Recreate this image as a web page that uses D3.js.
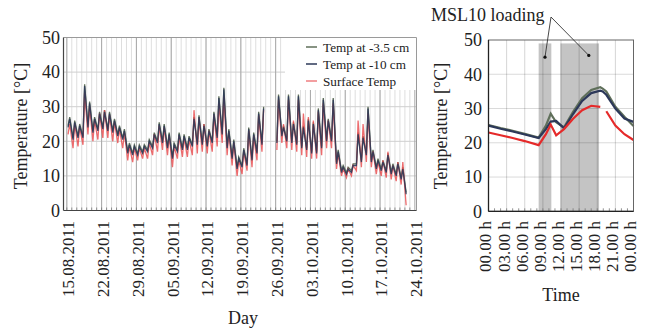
<!DOCTYPE html>
<html><head><meta charset="utf-8">
<script src="https://cdn.jsdelivr.net/npm/d3@7"></script>
<style>
body{margin:0;background:#fff}
text{font-family:"Liberation Serif","Times New Roman",serif;fill:#222}
</style>
</head><body><svg id="c" width="650" height="329"></svg>
<script>
// ---------- DATA ----------
const startDay = "15.08.2011";
const dateTickLabels = ["15.08.2011","22.08.2011","29.08.2011","05.09.2011","12.09.2011","19.09.2011","26.09.2011","03.10.2011","10.10.2011","17.10.2011","24.10.2011"];
const yTicks = [0,10,20,30,40,50];
const seriesNames = ["Temp at -3.5 cm","Temp at -10 cm","Surface Temp"];

// daily minima (~06:00) and maxima (~14:00), one entry per day from 15.08.2011
const navyMin = [24,20.5,21,21,24,22.5,23,23.5,23,22.5,21.5,20.5,16.5,16,16,16.5,17,18,19.5,19.5,18,15,17,17.5,17.5,18.5,19,19,18.5,19.5,21,22,18,15,12,12.5,13,14.5,16.5,19,null,null,19.5,21.5,20,19.5,19,18,17.5,16.5,16.5,18,20,20,13.5,11,10.5,11,13,14,16,14,12,11.5,11,10.5,10,9,4.7];
const navyMax = [26.5,25.5,24.5,36,31,26.5,28,28.5,28,26,24,23,19,18.5,18.5,18.5,20,22,25,24.5,22,19,22,21.5,21,26.5,27,24.5,23,28,32.5,35,23,20,15,17.5,23.5,22,28,29.5,null,null,33,24,33,25,33,24,26,25,29,32,26,32,17,12.5,12,13,22,21,29.5,17,14.5,14,16,13,13.5,12,null];
const greenMin = [24.5,21,21.5,21.5,24.5,23,23.5,24,23.5,23,22,21,17,16.5,16.5,17,17.5,18.5,20,20,18.5,15.5,17.5,18,18,19,19.5,19.5,19,20,21.5,22.5,18.5,15.5,12.5,13,13.5,15,17,19.5,null,null,20,22,20.5,20,19.5,18.5,18,17,17,18.5,20.5,20.5,14,11.5,11,11.5,13.5,14.5,16.5,14.5,12.5,12,11.5,11,10.5,9.5,5.2];
const greenMax = [27,26,25,36.5,31.5,27,28.5,29,28.5,26.5,24.5,23.5,19.5,19,19,19,20.5,22.5,25.5,25,22.5,19.5,22.5,22,21.5,27,27.5,25,23.5,28.5,33,35.5,23.5,20.5,15.5,18,24,22.5,28.5,30,null,null,33.5,24.5,33.5,25.5,33.5,24.5,26.5,25.5,29.5,32.5,26.5,32.5,17.5,13,12.5,13.5,22.5,21.5,30,17.5,15,14.5,16.5,13.5,14,12.5,null];
const redMin = [22,18,18.5,19,22,20,20.5,21,21,20,19.5,18,14.5,14,14.5,15,15,16,17,17.5,16,12.5,15,15.5,15.5,16,16.5,17,16.5,17,18.5,19.5,16,13,10,10.5,11.5,12.5,14.5,17,null,null,17.5,19.5,18,17.5,17,16,15.5,15,15,16,18,18,12,10,9.5,10,11.5,12.5,14,12.5,10.5,10,9.5,9,8.5,7.5,1.5];
const redMax = [25,25,24,34,30,26,28,29,27.5,25.5,23.5,22.5,18.5,18,18,18,19.5,22,24.5,24,21.5,18.5,21.5,21,20.5,29,26.5,25,23,27.5,31,33,22.5,19.5,14.5,17,23,21.5,27.5,29,null,null,32,25,32,26,32,28,27,26,28.5,31,26,31,16.5,12,12,13,26,25,28,17,14,14.5,17,13,14,14,null];

// right chart: one day of MSL10 loading
const timeTickLabels = ["00.00 h","03.00 h","06.00 h","09.00 h","12.00 h","15.00 h","18.00 h","21.00 h","00.00 h"];
const hours      = [0,2,4,6,8.3,9.5,10.3,11.2,12.5,14,15.5,17,18.5,18.9,19.5,21,22.5,24];
const green35    = [25.2,24.3,23.5,22.6,21.5,25,28.5,26,24.5,29,33,35.4,36.2,35.8,35,30.5,27.6,24.9];
const navy10     = [25.0,24.1,23.3,22.4,21.4,24,26.2,26.4,24.2,28.4,32.2,34.5,35.2,35,34,30,27.1,26.1];
const surface    = [23.0,22.2,21.4,20.5,19.3,22.5,25.3,22.2,24,27,29.5,30.8,30.5,null,29.2,25,22.5,20.8];
const loadingStart = [8.3,11.9];
const loadingEnd   = [10.4,18.3];
const loadingTop = 49;
const annotation = "MSL10 loading";

// ---------- DRAW ----------
const svg = d3.select("#c");
const colGreen = "#5f6f5a", colNavy = "#2c3859", colRed = "#e8474a";
const parse = d3.timeParse("%d.%m.%Y");
const day0 = parse(startDay);

// LEFT CHART
const xL = d3.scaleTime().domain([new Date(2011,7,14,8), new Date(2011,9,24,8)]).range([63.5,416.5]);
const yL = d3.scaleLinear().domain([0,50]).range([210.5,37.5]);
const gL = svg.append("g");
const majorDates = dateTickLabels.map(parse);
const allDays = d3.timeDay.range(new Date(2011,7,15), new Date(2011,9,24));
gL.selectAll(".mg").data(allDays).join("line")
  .attr("x1",d=>xL(d)).attr("x2",d=>xL(d)).attr("y1",yL(50)).attr("y2",yL(0))
  .attr("stroke","#d6d6d6").attr("stroke-width",0.8);
gL.selectAll(".hg").data(yTicks.slice(1,5)).join("line")
  .attr("x1",xL.range()[0]).attr("x2",xL.range()[1]).attr("y1",d=>yL(d)).attr("y2",d=>yL(d))
  .attr("stroke","#cfcfcf").attr("stroke-width",1);
gL.selectAll(".Mg").data(majorDates).join("line")
  .attr("x1",d=>xL(d)).attr("x2",d=>xL(d)).attr("y1",yL(50)).attr("y2",yL(0))
  .attr("stroke","#a8a8a8").attr("stroke-width",1);
gL.selectAll(".mt").data(allDays).join("line")
  .attr("x1",d=>xL(d)).attr("x2",d=>xL(d)).attr("y1",yL(0)).attr("y2",yL(0)-3)
  .attr("stroke","#777").attr("stroke-width",0.8);

function dailyPoints(mins, maxs){
  const pts=[];
  mins.forEach((v,i)=>{
    const d = d3.timeDay.offset(day0,i);
    pts.push({t:d3.timeHour.offset(d,6), v:v});
    pts.push({t:d3.timeHour.offset(d,14), v:maxs[i]});
  });
  return pts;
}
const lineL = d3.line().defined(d=>d.v!=null).x(d=>xL(d.t)).y(d=>yL(d.v));
gL.append("path").attr("d",lineL(dailyPoints(greenMin,greenMax))).attr("fill","none").attr("stroke",colGreen).attr("stroke-width",1.3);
gL.append("path").attr("d",lineL(dailyPoints(redMin,redMax))).attr("fill","none").attr("stroke",colRed).attr("stroke-opacity",0.8).attr("stroke-width",1.3);
gL.append("path").attr("d",lineL(dailyPoints(navyMin,navyMax))).attr("fill","none").attr("stroke",colNavy).attr("stroke-opacity",0.9).attr("stroke-width",1.3);

// legend
gL.append("rect").attr("x",285).attr("y",38).attr("width",131).attr("height",52).attr("fill","#fff");
const legCols=[colGreen,colNavy,colRed];
seriesNames.forEach((n,i)=>{
  const y=47+i*17;
  gL.append("line").attr("x1",306).attr("x2",317).attr("y1",y).attr("y2",y).attr("stroke",legCols[i]).attr("stroke-width",1.5).attr("stroke-opacity",i==2?0.7:1);
  gL.append("text").attr("x",323).attr("y",y+4.5).attr("font-size",13.2).text(n);
});

// frame
gL.append("line").attr("x1",xL.range()[0]).attr("x2",xL.range()[1]).attr("y1",yL(50)).attr("y2",yL(50)).attr("stroke","#9a9a9a");
gL.append("line").attr("x1",xL.range()[1]).attr("x2",xL.range()[1]).attr("y1",yL(50)).attr("y2",yL(0)).attr("stroke","#9a9a9a");
gL.append("line").attr("x1",xL.range()[0]).attr("x2",xL.range()[1]).attr("y1",yL(0)).attr("y2",yL(0)).attr("stroke","#444").attr("stroke-width",1.2);
gL.append("line").attr("x1",xL.range()[0]).attr("x2",xL.range()[0]).attr("y1",yL(50)).attr("y2",yL(0)).attr("stroke","#444").attr("stroke-width",1.2);

gL.selectAll(".yl").data(yTicks).join("text")
  .attr("x",60).attr("y",d=>yL(d)).attr("dy","0.35em").attr("text-anchor","end").attr("font-size",18).text(d=>d);
gL.selectAll(".xl").data(dateTickLabels).join("text")
  .attr("transform",d=>`translate(${xL(parse(d))+1.5},221) rotate(-90)`)
  .attr("dy","0.35em").attr("text-anchor","end").attr("font-size",17).text(d=>d);
gL.append("text").attr("transform","translate(27,126) rotate(-90)").attr("text-anchor","middle").attr("font-size",18).text("Temperature [°C]");
gL.append("text").attr("x",243).attr("y",324).attr("text-anchor","middle").attr("font-size",18).text("Day");

// RIGHT CHART
const xR = d3.scaleLinear().domain([0,24]).range([488.5,633.5]);
const yR = d3.scaleLinear().domain([0,50]).range([211.3,40]);
const gR = svg.append("g");
gR.selectAll(".band").data(loadingStart).join("rect")
  .attr("x",d=>xR(d)).attr("width",(d,i)=>xR(loadingEnd[i])-xR(d))
  .attr("y",yR(loadingTop)).attr("height",yR(0)-yR(loadingTop)).attr("fill","#c4c4c4");
const hTicks = d3.range(0,25,3);
gR.selectAll(".vg").data(hTicks.slice(1,8)).join("line")
  .attr("x1",d=>xR(d)).attr("x2",d=>xR(d)).attr("y1",yR(50)).attr("y2",yR(0))
  .attr("stroke","rgba(0,0,0,0.17)").attr("stroke-width",1);
gR.selectAll(".hg").data(yTicks.slice(1,5)).join("line")
  .attr("x1",xR(0)).attr("x2",xR(24)).attr("y1",d=>yR(d)).attr("y2",d=>yR(d))
  .attr("stroke","rgba(0,0,0,0.15)").attr("stroke-width",1);
gR.selectAll(".mt").data(d3.range(1,24)).join("line")
  .attr("x1",d=>xR(d)).attr("x2",d=>xR(d)).attr("y1",yR(0)).attr("y2",yR(0)-3)
  .attr("stroke","#777").attr("stroke-width",0.8);

const lineR = d3.line().defined(d=>d[1]!=null).x(d=>xR(d[0])).y(d=>yR(d[1]));
[[green35,colGreen],[navy10,colNavy],[surface,"#e52a2a"]].forEach(([vals,c])=>{
  gR.append("path").attr("d",lineR(hours.map((h,i)=>[h,vals[i]]))).attr("fill","none")
    .attr("stroke",c).attr("stroke-width",2.2);
});

gR.append("rect").attr("x",xR(0)).attr("y",yR(50)).attr("width",xR(24)-xR(0)).attr("height",yR(0)-yR(50))
  .attr("fill","none").attr("stroke","#666").attr("stroke-width",1);
gR.append("line").attr("x1",xR(0)).attr("x2",xR(24)).attr("y1",yR(0)).attr("y2",yR(0)).attr("stroke","#222").attr("stroke-width",1.3);
gR.append("line").attr("x1",xR(0)).attr("x2",xR(0)).attr("y1",yR(50)).attr("y2",yR(0)).attr("stroke","#222").attr("stroke-width",1.3);

gR.selectAll(".yl").data(yTicks).join("text")
  .attr("x",482).attr("y",d=>yR(d)).attr("dy","0.35em").attr("text-anchor","end").attr("font-size",18).text(d=>d);
gR.selectAll(".xl").data(timeTickLabels).join("text")
  .attr("transform",(d,i)=>`translate(${xR(hTicks[i])-3},221) rotate(-90)`)
  .attr("dy","0.35em").attr("text-anchor","end").attr("font-size",17).text(d=>d);
gR.append("text").attr("transform","translate(447,126) rotate(-90)").attr("text-anchor","middle").attr("font-size",18).text("Temperature [°C]");
gR.append("text").attr("x",561).attr("y",301).attr("text-anchor","middle").attr("font-size",18).text("Time");

gR.append("text").attr("x",431).attr("y",21).attr("font-size",18).text(annotation);
const anchor=[551,17];
const targets=[[(loadingStart[0]+loadingEnd[0])/2,45],[ (loadingStart[1]+loadingEnd[1])/2+1.5,45.5]];
targets.forEach(t=>{
  gR.append("line").attr("x1",anchor[0]).attr("y1",anchor[1]).attr("x2",xR(t[0])).attr("y2",yR(t[1]))
    .attr("stroke","#333").attr("stroke-width",0.9);
  gR.append("circle").attr("cx",xR(t[0])).attr("cy",yR(t[1])).attr("r",1.6).attr("fill","#111");
});
</script></body></html>
